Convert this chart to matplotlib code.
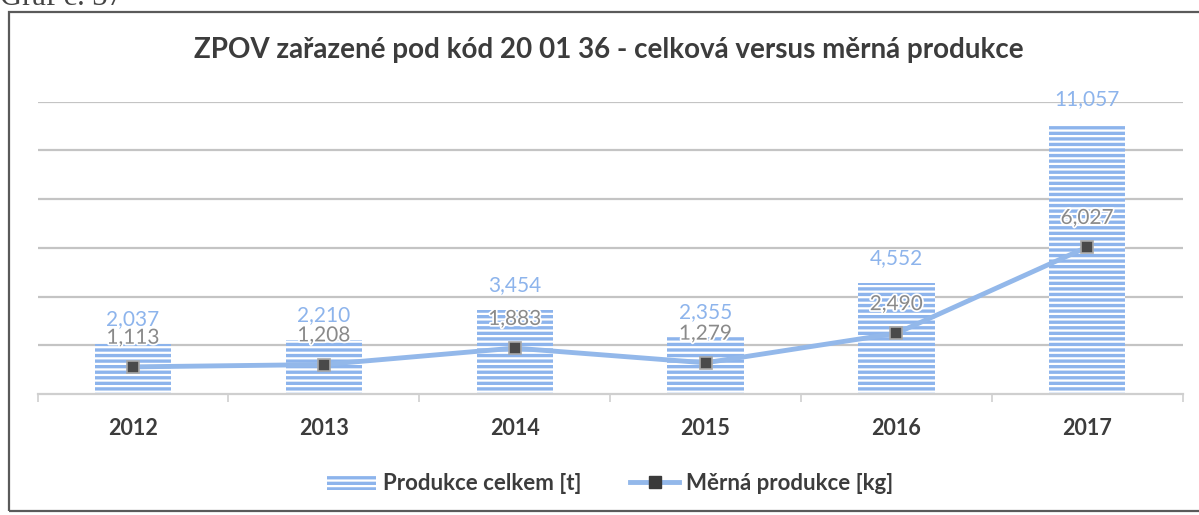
import matplotlib
matplotlib.use("Agg")
import matplotlib.pyplot as plt
import matplotlib.patheffects as pe
from matplotlib.patches import Patch, Rectangle
from matplotlib.lines import Line2D
import numpy as np

plt.rcParams['hatch.linewidth'] = 1.6

# Data
years = ['2012', '2013', '2014', '2015', '2016', '2017']
produkce_celkem_t = [2037, 2210, 3454, 2355, 4552, 11057]
merna_produkce_kg = [1.113, 1.208, 1.883, 1.279, 2.490, 6.027]

BAR_BLUE = '#8db4ec'
LINE_BLUE = '#93b8ea'
TEXT_DARK = '#3c3c3c'
FONT = ['Lato', 'DejaVu Sans']

W, H = 1199, 515
fig = plt.figure(figsize=(W / 100, H / 100), dpi=100)

# outer chart frame
fig.add_artist(Rectangle((9 / W, 4 / H), 1.2, (H - 12 - 4) / H, transform=fig.transFigure,
                         fill=False, edgecolor='#5a5a5a', linewidth=1.6, clip_on=False))
# caption above the frame (partly cut off by the page edge)
fig.text(0.0, 1 - 5 / H, 'Graf č. 37', fontsize=22, family=['Liberation Serif'],
         color='#444444', ha='left', va='baseline')

ax = fig.add_axes([37.6 / W, (H - 394) / H, (1182.6 - 37.6) / W, (394 - 101.5) / H])
x = np.arange(len(years))

ax.bar(x, produkce_celkem_t, width=0.40, facecolor=BAR_BLUE, edgecolor='white',
       hatch='---', linewidth=0, zorder=2)
ax.set_xlim(-0.5, len(years) - 0.5)
ax.set_ylim(0, 12000)
ax.set_yticks(np.arange(2000, 12001, 2000))
ax.yaxis.grid(True, color='#c4c4c4', linewidth=1.6, zorder=0)
for s in ['top', 'right', 'left']:
    ax.spines[s].set_visible(False)
ax.spines['bottom'].set_color('#cfcfcf')
ax.spines['bottom'].set_linewidth(1.6)
ax.set_xticks(x)
ax.set_xticklabels(years, fontsize=15.5, fontweight='bold', color=TEXT_DARK, family=FONT)
ax.tick_params(axis='x', length=0, pad=17)
ax.set_xticks(np.arange(-0.5, len(years), 1.0), minor=True)
ax.tick_params(axis='x', which='minor', length=6, color='#cfcfcf', width=1.2)

for xi, v in zip(x, produkce_celkem_t):
    ax.annotate(f'{v:,}', (xi, v), xytext=(0, 18), textcoords='offset points',
                ha='center', va='center', fontsize=15, color=BAR_BLUE, family=FONT, zorder=5)

# specific production on its own (hidden) scale
ax2 = ax.twinx()
ax2.set_ylim(0, 12)
ax2.axis('off')
ax.tick_params(axis='y', which='both', left=False, right=False, labelleft=False, labelright=False)
ax2.plot(x, merna_produkce_kg, color=LINE_BLUE, linewidth=3.5, marker='s', markersize=9,
         markerfacecolor='#4a4a4a', markeredgecolor='#a8a8a8', markeredgewidth=1.2, zorder=3)
for xi, v in zip(x, merna_produkce_kg):
    ax2.annotate(f'{v:.3f}'.replace('.', ','), (xi, v), xytext=(0, 21), textcoords='offset points',
                 ha='center', va='center', fontsize=15, color='#8a8a8a', family=FONT,
                 path_effects=[pe.withStroke(linewidth=2.5, foreground='white')], zorder=5)

fig.text(609 / W, 1 - 50 / H, 'ZPOV zařazené pod kód 20 01 36 - celková versus měrná produkce',
         ha='center', va='center', fontsize=20, fontweight='bold', color=TEXT_DARK, family=FONT)

handles = [
    Patch(facecolor=BAR_BLUE, edgecolor='white', hatch='---', linewidth=0),
    Line2D([], [], color=LINE_BLUE, linewidth=3.5, marker='s', markersize=9,
           markerfacecolor='#3a3a3a', markeredgecolor='#3a3a3a'),
]
fig.legend(handles, ['Produkce celkem [t]', 'Měrná produkce [kg]'], loc='center',
           bbox_to_anchor=(610 / W, 1 - 483 / H), ncol=2, frameon=False,
           prop={'family': FONT, 'size': 16, 'weight': 'bold'}, labelcolor=TEXT_DARK,
           handlelength=2.2, handletextpad=0.3, columnspacing=2.2)

fig.savefig('out.png', dpi=100, facecolor='white')
